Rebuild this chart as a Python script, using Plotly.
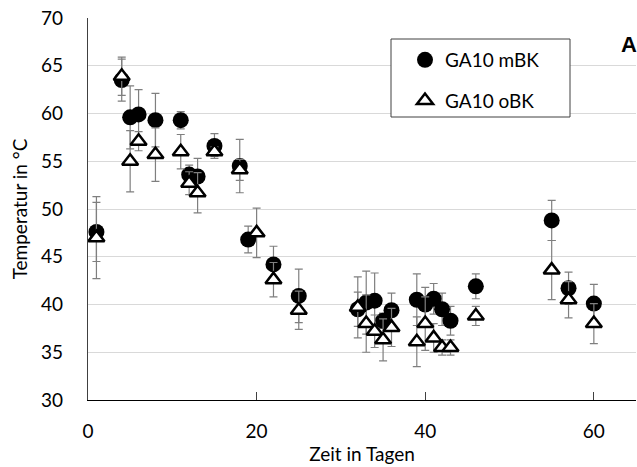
import plotly.graph_objects as go

# Data
days_mbk = [1, 4, 5, 6, 8, 11, 12, 13, 15, 18, 19, 22, 25, 32, 33, 34, 35, 36, 39, 40, 41, 42, 43, 46, 55, 57, 60]
temp_mbk = [47.6, 63.5, 59.6, 59.9, 59.3, 59.3, 53.6, 53.4, 56.6, 54.5, 46.8, 44.2, 40.9, 39.5, 40.2, 40.4, 38.3, 39.4,
            40.5, 40.0, 40.6, 39.5, 38.3, 41.9, 48.8, 41.7, 40.1]
err_mbk = [3.1, 2.2, 3.3, 2.6, 2.8, 0.9, 1.0, 1.9, 1.3, 2.8, 1.4, 1.9, 2.8, 1.8, 3.3, 2.9, 0.8, 1.8,
           2.7, 1.8, 1.6, 1.7, 1.5, 1.3, 2.1, 1.7, 2.0]

days_obk = [1, 4, 5, 6, 8, 11, 12, 13, 15, 18, 20, 22, 25, 32, 33, 34, 35, 36, 39, 40, 41, 42, 43, 46, 55, 57, 60]
temp_obk = [47.0, 63.9, 55.0, 57.1, 55.7, 56.0, 52.7, 51.7, 56.0, 54.1, 47.5, 42.6, 39.4, 39.7, 38.0, 37.2, 36.3, 37.6,
            36.1, 38.0, 36.5, 35.5, 35.5, 38.8, 43.6, 40.5, 38.0]
err_obk = [4.3, 2.0, 3.2, 1.0, 2.8, 1.8, 1.2, 2.1, 0.5, 1.1, 2.6, 1.8, 2.0, 3.2, 3.0, 1.7, 2.2, 2.0,
           2.6, 2.8, 1.5, 0.8, 0.8, 1.0, 3.1, 1.9, 2.1]

x_ticks = [0, 20, 40, 60]
y_ticks = [30, 35, 40, 45, 50, 55, 60, 65, 70]

FONT = "Lato"
ERRC = "#7f7f7f"

fig = go.Figure()
fig.add_trace(go.Scatter(
    x=days_mbk, y=temp_mbk, mode="markers", name="GA10 mBK", legendgroup="a",
    marker=dict(symbol="circle", size=16, color="black", line=dict(width=0)),
    error_y=dict(type="data", array=err_mbk, visible=True, color=ERRC, thickness=1.2, width=4),
))
fig.add_trace(go.Scatter(
    x=days_obk, y=temp_obk, mode="markers", name="GA10 oBK", legendgroup="b",
    marker=dict(symbol="triangle-up", size=14, color="white", line=dict(width=2.5, color="black")),
    error_y=dict(type="data", array=err_obk, visible=True, color=ERRC, thickness=1.2, width=4),
))

L, R, T, B = 88, 1, 18, 67
W, H = 637, 467
pw, ph = W - L - R, H - T - B

def px(xp):
    return (xp - L) / pw

def py(yp):
    return (H - B - yp) / ph

fig.add_shape(type="rect", xref="paper", yref="paper",
              x0=px(391), x1=px(570), y0=py(117), y1=py(39),
              line=dict(color="#404040", width=1), fillcolor="white", layer="above")

fig.add_annotation(text="<b>A</b>", xref="paper", yref="paper", x=px(619), y=py(44),
                   xanchor="left", yanchor="middle", showarrow=False,
                   font=dict(family="Liberation Sans", size=22, color="black"))

fig.update_layout(
    width=W, height=H,
    margin=dict(l=L, r=R, t=T, b=B, autoexpand=False),
    plot_bgcolor="white", paper_bgcolor="white",
    font=dict(family=FONT, size=19, color="black"),
    showlegend=True,
    legend=dict(x=px(405), y=py(41), xanchor="left", yanchor="top",
                bgcolor="rgba(0,0,0,0)", borderwidth=0, tracegroupgap=13,
                traceorder="grouped", font=dict(family=FONT, size=19, color="black")),
    xaxis=dict(range=[0, 65], tickvals=x_ticks, showgrid=False, zeroline=False,
               showline=True, linecolor="black", linewidth=1.3,
               ticks="inside", ticklen=8, tickcolor="#404040", tickwidth=1,
               ticklabelstandoff=14,
               title=dict(text="Zeit in Tagen", standoff=2, font=dict(size=19))),
    yaxis=dict(range=[30, 70], tickvals=y_ticks, showgrid=True, gridcolor="#d9d9d9", gridwidth=1.2,
               zeroline=False, showline=True, linecolor="#404040", linewidth=1.3,
               ticks="", ticklabelstandoff=20,
               title=dict(text="Temperatur in °C", standoff=8, font=dict(size=19))),
)

fig.write_html("out.html")
